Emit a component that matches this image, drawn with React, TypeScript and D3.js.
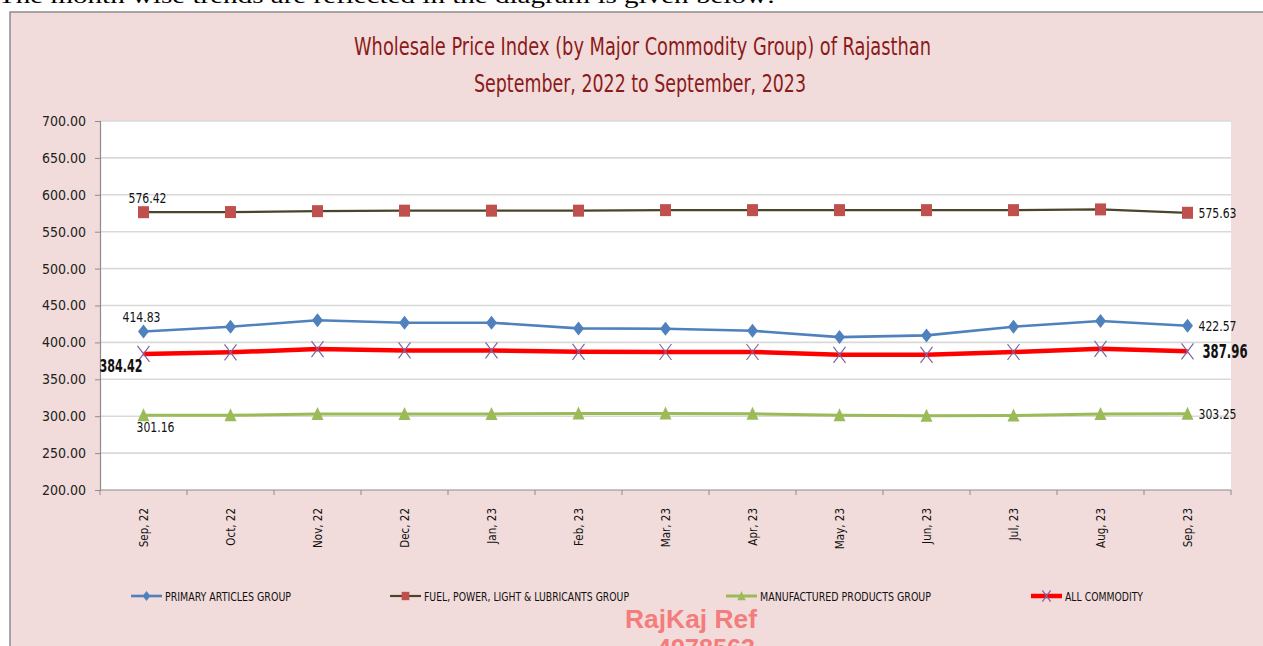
import { useEffect, useRef } from 'react';
import * as d3 from 'd3';

const months = ['Sep, 22', 'Oct, 22', 'Nov, 22', 'Dec, 22', 'Jan, 23', 'Feb, 23', 'Mar, 23', 'Apr, 23', 'May, 23', 'Jun, 23', 'Jul, 23', 'Aug, 23', 'Sep, 23'];
const primaryArticles = [414.83, 421.3, 430.0, 426.7, 426.7, 419.0, 418.5, 415.8, 407.2, 409.5, 421.3, 429.0, 422.57];
const fuelPower = [576.42, 576.6, 577.8, 578.5, 578.5, 578.5, 579.2, 579.2, 579.2, 579.2, 579.2, 580.2, 575.63];
const manufactured = [301.16, 301.2, 303.0, 303.0, 303.0, 303.8, 303.8, 303.2, 301.3, 300.6, 301.0, 303.0, 303.25];
const allCommodity = [384.42, 386.6, 390.9, 389.1, 389.1, 387.2, 387.0, 387.0, 383.2, 383.2, 387.0, 391.3, 387.96];
const yTicks = [200, 250, 300, 350, 400, 450, 500, 550, 600, 650, 700];
const seriesNames = ['PRIMARY ARTICLES GROUP', 'FUEL, POWER, LIGHT & LUBRICANTS GROUP', 'MANUFACTURED PRODUCTS GROUP', 'ALL COMMODITY'];

const W = 1263;
const H = 646;
const NARROW = "'Liberation Sans Narrow', 'Arial Narrow', 'DejaVu Sans Condensed', sans-serif";

const WpiChart = () => {
  const svgRef = useRef<SVGSVGElement>(null);

  useEffect(() => {
    if (!svgRef.current) return;
    const svg = d3.select(svgRef.current);
    svg.selectAll('*').remove();

    // page text above the chart, mostly cut off
    svg.append('text')
      .attr('x', -2).attr('y', 3)
      .attr('textLength', 777).attr('lengthAdjust', 'spacingAndGlyphs')
      .style('font-family', "'Liberation Serif', 'Times New Roman', serif")
      .style('font-size', '21px').style('fill', '#000')
      .text('The month wise trends are reflected in the diagram is given below:');

    // chart frame
    svg.append('rect')
      .attr('x', 10).attr('y', 12).attr('width', 1270).attr('height', 660)
      .attr('fill', '#f2dcdb').attr('stroke', '#8c8c8c').attr('stroke-width', 1.5);

    const plot = { left: 100, right: 1231, top: 121, bottom: 490 };

    const x = d3.scaleBand().domain(months).range([plot.left, plot.right]).padding(0);
    const y = d3.scaleLinear().domain([200, 700]).range([plot.bottom, plot.top]);
    const cx = (m: string) => (x(m) || 0) + x.bandwidth() / 2;

    svg.append('rect')
      .attr('x', plot.left).attr('y', plot.top)
      .attr('width', plot.right - plot.left).attr('height', plot.bottom - plot.top)
      .attr('fill', '#fff');

    // titles
    svg.append('text')
      .attr('x', 354).attr('y', 55)
      .attr('textLength', 577).attr('lengthAdjust', 'spacingAndGlyphs')
      .style('font-family', NARROW).style('font-size', '24px').style('fill', '#8b1a1a')
      .text('Wholesale Price Index (by Major Commodity Group) of Rajasthan');
    svg.append('text')
      .attr('x', 474).attr('y', 92)
      .attr('textLength', 332).attr('lengthAdjust', 'spacingAndGlyphs')
      .style('font-family', NARROW).style('font-size', '24px').style('fill', '#8b1a1a')
      .text('September, 2022 to September, 2023');

    // gridlines
    svg.append('g').selectAll('line')
      .data(yTicks.filter(t => t > 200))
      .join('line')
      .attr('x1', plot.left).attr('x2', plot.right)
      .attr('y1', d => y(d)).attr('y2', d => y(d))
      .attr('stroke', '#d9d9d9').attr('stroke-width', 1.6);

    // y axis
    const yAxis = d3.axisLeft(y).tickValues(yTicks).tickFormat(d3.format('.2f')).tickSize(5).tickPadding(9);
    const gy = svg.append('g').attr('transform', `translate(${plot.left},0)`).call(yAxis);
    gy.select('.domain').attr('stroke', '#8c8c8c').attr('stroke-width', 1.2);
    gy.selectAll('.tick line').attr('stroke', '#8c8c8c');
    gy.selectAll('text')
      .style('font-family', NARROW).style('font-size', '14px').style('fill', '#222');

    // x axis: ticks on category boundaries
    const gx = svg.append('g');
    gx.append('line')
      .attr('x1', plot.left).attr('x2', plot.right)
      .attr('y1', plot.bottom).attr('y2', plot.bottom)
      .attr('stroke', '#8c8c8c').attr('stroke-width', 1.2);
    gx.selectAll('line.tk')
      .data(months.concat(['end']))
      .join('line')
      .attr('class', 'tk')
      .attr('x1', (d, i) => plot.left + i * x.bandwidth())
      .attr('x2', (d, i) => plot.left + i * x.bandwidth())
      .attr('y1', plot.bottom).attr('y2', plot.bottom + 5)
      .attr('stroke', '#8c8c8c');
    gx.selectAll('text')
      .data(months)
      .join('text')
      .attr('transform', d => `translate(${cx(d) + 4},${plot.bottom + 18}) rotate(-90)`)
      .attr('text-anchor', 'end')
      .style('font-family', NARROW).style('font-size', '11.5px').style('fill', '#111')
      .text(d => d);

    const line = d3.line<number>()
      .x((d, i) => cx(months[i]))
      .y(d => y(d));

    const drawLine = (vals: number[], color: string, width: number) => {
      svg.append('path')
        .datum(vals)
        .attr('d', line)
        .attr('fill', 'none')
        .attr('stroke', color)
        .attr('stroke-width', width)
        .attr('stroke-linejoin', 'round');
    };

    const diamond = (g: any, px: number, py: number, s = 1) =>
      g.append('path')
        .attr('d', `M${px},${py - 7 * s}L${px + 5.5 * s},${py}L${px},${py + 7 * s}L${px - 5.5 * s},${py}Z`)
        .attr('fill', '#4f81bd');
    const square = (g: any, px: number, py: number, s = 1) =>
      g.append('rect')
        .attr('x', px - 5.5 * s).attr('y', py - 6 * s).attr('width', 11 * s).attr('height', 12 * s)
        .attr('fill', '#c0504d');
    const triangle = (g: any, px: number, py: number, s = 1) =>
      g.append('path')
        .attr('d', `M${px},${py - 7 * s}L${px + 6 * s},${py + 6 * s}L${px - 6 * s},${py + 6 * s}Z`)
        .attr('fill', '#9bbb59');
    const cross = (g: any, px: number, py: number, s = 1) =>
      g.append('path')
        .attr('d', `M${px - 6 * s},${py - 8 * s}L${px + 6 * s},${py + 8 * s}M${px + 6 * s},${py - 8 * s}L${px - 6 * s},${py + 8 * s}`)
        .attr('stroke', '#8064a2').attr('stroke-width', 1.2).attr('fill', 'none');

    drawLine(fuelPower, '#4a452a', 2.2);
    drawLine(primaryArticles, '#4f81bd', 2.6);
    drawLine(manufactured, '#9bbb59', 3);
    drawLine(allCommodity, '#ff0000', 4.5);

    const mk = svg.append('g');
    months.forEach((m, i) => {
      square(mk, cx(m), y(fuelPower[i]));
      diamond(mk, cx(m), y(primaryArticles[i]));
      triangle(mk, cx(m), y(manufactured[i]));
      cross(mk, cx(m), y(allCommodity[i]));
    });

    // data labels at first and last month
    const last = months.length - 1;
    const label = (txt: string, lx: number, ly: number, len: number, size: number, bold = false) =>
      svg.append('text')
        .attr('x', lx).attr('y', ly)
        .attr('textLength', len).attr('lengthAdjust', 'spacingAndGlyphs')
        .style('font-family', NARROW).style('font-size', `${size}px`)
        .style('font-weight', bold ? 700 : 400).style('fill', '#111')
        .text(txt);
    const fmt = d3.format('.2f');
    const x0 = cx(months[0]);
    const x1 = cx(months[last]);
    label(fmt(fuelPower[0]), x0 - 15, y(fuelPower[0]) - 9, 38, 14);
    label(fmt(primaryArticles[0]), x0 - 21, y(primaryArticles[0]) - 9, 38, 14);
    label(fmt(allCommodity[0]), x0 - 44, y(allCommodity[0]) + 18, 43, 17, true);
    label(fmt(manufactured[0]), x0 - 7, y(manufactured[0]) + 17, 38, 14);
    label(fmt(fuelPower[last]), x1 + 11, y(fuelPower[last]) + 5, 38, 14);
    label(fmt(primaryArticles[last]), x1 + 11, y(primaryArticles[last]) + 5, 38, 14);
    label(fmt(allCommodity[last]), x1 + 15, y(allCommodity[last]) + 7, 45, 20, true);
    label(fmt(manufactured[last]), x1 + 11, y(manufactured[last]) + 5, 38, 14);

    // legend
    const legendY = 596;
    const legendItems = [
      { x: 131, len: 126, color: '#4f81bd', w: 2.6, draw: diamond },
      { x: 390, len: 205, color: '#4a452a', w: 2.2, draw: square },
      { x: 726, len: 171, color: '#9bbb59', w: 3, draw: triangle },
      { x: 1031, len: 78, color: '#ff0000', w: 4.5, draw: cross },
    ];
    const lg = svg.append('g');
    legendItems.forEach((it, i) => {
      lg.append('line')
        .attr('x1', it.x).attr('x2', it.x + 31)
        .attr('y1', legendY).attr('y2', legendY)
        .attr('stroke', it.color).attr('stroke-width', it.w);
      it.draw(lg, it.x + 15.5, legendY, 0.7);
      lg.append('text')
        .attr('x', it.x + 34).attr('y', legendY + 4.5)
        .attr('textLength', it.len).attr('lengthAdjust', 'spacingAndGlyphs')
        .style('font-family', NARROW).style('font-size', '12px').style('fill', '#111')
        .text(seriesNames[i]);
    });

    // watermark
    svg.append('text')
      .attr('x', 625).attr('y', 628)
      .attr('textLength', 132).attr('lengthAdjust', 'spacingAndGlyphs')
      .style('font-family', "'Liberation Sans', Arial, sans-serif")
      .style('font-size', '25px').style('font-weight', 700).style('fill', '#f47c7c')
      .text('RajKaj Ref');
    svg.append('text')
      .attr('x', 657).attr('y', 657)
      .attr('textLength', 98).attr('lengthAdjust', 'spacingAndGlyphs')
      .style('font-family', "'Liberation Sans', Arial, sans-serif")
      .style('font-size', '25px').style('font-weight', 700).style('fill', '#f47c7c')
      .text('4978563');
  }, []);

  return (
    <div style={{ position: 'absolute', left: 0, top: 0, width: W, height: H, overflow: 'hidden', background: '#fff' }}>
      <svg ref={svgRef} width={W} height={H} style={{ display: 'block' }} />
    </div>
  );
};

export default function App() {
  return <WpiChart />;
}
